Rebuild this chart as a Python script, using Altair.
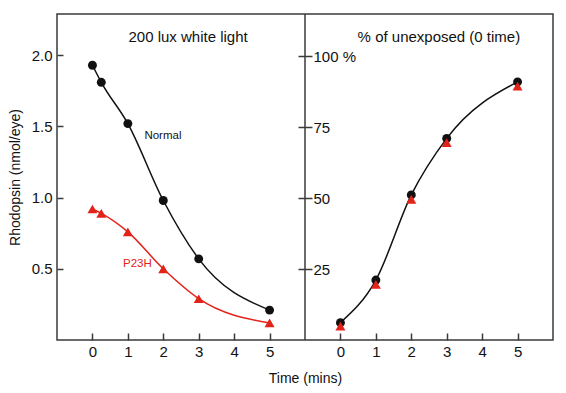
import altair as alt
import pandas as pd

# ---- data ----
times_left = [0, 0.25, 1, 2, 3, 5]
normal_left = [1.93, 1.81, 1.52, 0.98, 0.57, 0.21]
p23h_left = [0.92, 0.89, 0.76, 0.50, 0.29, 0.12]

times_right = [0, 1, 2, 3, 5]
normal_pct = [6.1, 21.1, 51.1, 71.0, 90.9]
p23h_pct = [4.9, 19.6, 49.5, 69.5, 89.4]

x_ticks = [0, 1, 2, 3, 4, 5, 7, 8, 9, 10, 11, 12]
left_y_ticks = [0.5, 1.0, 1.5, 2.0]
right_y_ticks = [25, 50, 75, 100]

RIGHT_SHIFT = 7  # right panel is drawn on the same x scale, shifted by 7 units
RED = "#e2231a"
BLACK = "#111111"
FRAME = "#3a3a3a"
FONT = "Liberation Sans"

left_df = pd.DataFrame({
    "time": times_left * 2,
    "value": normal_left + p23h_left,
    "series": ["Normal"] * len(times_left) + ["P23H"] * len(times_left),
})
right_df = pd.DataFrame({
    "time": times_right * 2,
    "pct": normal_pct + p23h_pct,
    "series": ["Normal"] * len(times_right) + ["P23H"] * len(times_right),
})

labels_df = pd.DataFrame({
    "tx": [1.99, 1.27, 2.70, 2.78 + RIGHT_SHIFT],
    "value": [1.43, 0.535, 2.13, 2.13],
    "text": ["Normal", "P23H", "200 lux white light", "% of unexposed (0 time)"],
    "color": [BLACK, RED, BLACK, BLACK],
    "size": [11.5, 11.5, 15, 15],
})


def X():
    return alt.X(
        "tx:Q",
        scale=alt.Scale(domain=[-1, 13], nice=False, zero=False),
        axis=alt.Axis(
            values=x_ticks,
            labelExpr="datum.value > 6 ? '' + (datum.value - 7) : datum.label",
            title="Time (mins)",
            grid=False,
            domain=False,
            offset=-7,
            tickSize=7,
            tickColor=FRAME,
            tickWidth=1.5,
            labelPadding=4,
            labelFontSize=15,
            labelFont=FONT,
            labelColor="#111",
            titleFont=FONT,
            titleFontSize=14,
            titleFontWeight="normal",
            titleColor="#111",
            titlePadding=12,
        ),
    )


def YL(field="value"):
    return alt.Y(
        f"{field}:Q",
        scale=alt.Scale(domain=[0, 2.29], nice=False, zero=False),
        axis=alt.Axis(
            values=left_y_ticks,
            format=".1f",
            title="Rhodopsin (nmol/eye)",
            grid=False,
            domain=False,
            orient="left",
            offset=-6,
            tickSize=6,
            tickColor=FRAME,
            tickWidth=1.5,
            labelPadding=5,
            labelFontSize=15,
            labelFont=FONT,
            labelColor="#111",
            titleFont=FONT,
            titleFontSize=14,
            titleFontWeight="normal",
            titleColor="#111",
            titlePadding=9,
        ),
    )


def YR():
    return alt.Y(
        "pct:Q",
        scale=alt.Scale(domain=[0, 114.8], nice=False, zero=False),
        axis=alt.Axis(
            values=right_y_ticks,
            labelExpr="datum.value == 100 ? '100 %' : datum.label",
            title=None,
            grid=False,
            domain=False,
            orient="right",
            offset=-255,
            tickSize=14,
            tickColor=FRAME,
            tickWidth=1.5,
            labelPadding=1,
            labelFontSize=15,
            labelFont=FONT,
            labelColor="#111",
        ),
    )


left_base = alt.Chart(left_df).transform_calculate(tx="datum.time")
color_scale = alt.Scale(domain=["Normal", "P23H"], range=[BLACK, RED])

left_lines = left_base.mark_line(interpolate="monotone", strokeWidth=1.5).encode(
    x=X(), y=YL(), color=alt.Color("series:N", scale=color_scale, legend=None)
)
left_circles = left_base.transform_filter("datum.series == 'Normal'").mark_point(
    shape="circle", filled=True, size=80, opacity=1, color=BLACK
).encode(x=X(), y=YL())
left_tris = left_base.transform_filter("datum.series == 'P23H'").mark_point(
    shape="triangle-up", filled=True, size=100, opacity=1, color=RED
).encode(x=X(), y=YL())

divider = alt.Chart(pd.DataFrame({"tx": [6]})).mark_rule(
    color=FRAME, strokeWidth=1.5
).encode(x=X())

texts = alt.Chart(labels_df).mark_text(font=FONT, align="center", baseline="middle").encode(
    x=X(), y=YL(), text="text:N",
    color=alt.Color("color:N", scale=None),
    size=alt.Size("size:Q", scale=None),
)

left_layer = alt.layer(left_lines, left_circles, left_tris, divider, texts)

right_base = alt.Chart(right_df).transform_calculate(tx=f"datum.time + {RIGHT_SHIFT}")
right_line = right_base.transform_filter("datum.series == 'Normal'").mark_line(
    interpolate="monotone", strokeWidth=1.5, color=BLACK
).encode(x=X(), y=YR())
right_circles = right_base.transform_filter("datum.series == 'Normal'").mark_point(
    shape="circle", filled=True, size=80, opacity=1, color=BLACK
).encode(x=X(), y=YR())
right_tris = right_base.transform_filter("datum.series == 'P23H'").mark_point(
    shape="triangle-up", filled=True, size=100, opacity=1, color=RED
).encode(x=X(), y=YR())

right_layer = alt.layer(right_line, right_circles, right_tris)

chart = (
    alt.layer(left_layer, right_layer)
    .resolve_scale(y="independent", color="independent")
    .resolve_axis(y="independent")
    .properties(
        width=496,
        height=326,
        autosize=alt.AutoSizeParams(type="none"),
        padding={"left": 49, "top": 6, "right": 5, "bottom": 52},
        background="white",
    )
    .configure_view(stroke=FRAME, strokeWidth=1.5)
)

chart.save("out.html", embed_options={"renderer": "svg", "actions": False})
